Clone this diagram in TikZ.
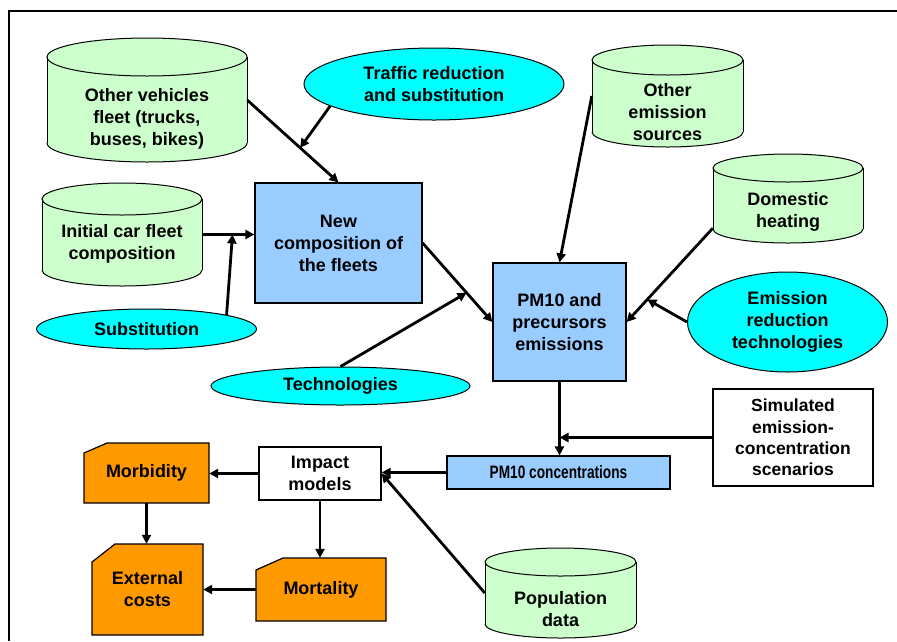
\documentclass[tikz,border=0pt]{standalone}
\usepackage{fontspec}
\setmainfont{Liberation Sans}
\usetikzlibrary{shapes.geometric,arrows.meta,calc}
\definecolor{cylg}{HTML}{CCFFCC}
\definecolor{cyanf}{HTML}{00FFFF}
\definecolor{bluef}{HTML}{99CCFF}
\definecolor{orf}{HTML}{FF9900}
% #1 name, #2 x1, #3 x2, #4 ytop, #5 ybot, #6 ry, #7 text y, #8 text
\newcommand\mycyl[8]{%
  \pgfmathsetmacro\mycx{(#2+#3)/2}%
  \pgfmathsetmacro\myrx{(#3-#2)/2}%
  \pgfmathsetmacro\myyt{#4+#6}%
  \pgfmathsetmacro\myyb{#5-#6}%
  \fill[cylg] (#2,\myyt) rectangle (#3,\myyb);
  \fill[cylg] (\mycx,\myyb) ellipse [x radius=\myrx, y radius=#6];
  \fill[cylg] (\mycx,\myyt) ellipse [x radius=\myrx, y radius=#6];
  \draw[line width=1pt] (\mycx,\myyt) ellipse [x radius=\myrx, y radius=#6];
  \draw[line width=1pt] (#2,\myyt) -- (#2,\myyb) (#3,\myyt) -- (#3,\myyb);
  \begin{scope}
    \clip ({#2-2},\myyb) rectangle ({#3+2},{#5+2});
    \draw[line width=1pt] (\mycx,\myyb) ellipse [x radius=\myrx, y radius=#6];
  \end{scope}
  \node[inner sep=0pt, minimum width={(#3-#2)*1pt}, minimum height={(#5-#4)*1pt}] (#1) at (\mycx,{(#4+#5)/2}) {};
  \node[lbl] (#1t) at (\mycx,#7) {#8};
}
\begin{document}
\begin{tikzpicture}[x=1pt,y=-1pt,
  lbl/.style={font=\bfseries\fontsize{18}{22}\selectfont, align=center, inner sep=0pt},
  boxn/.style={lbl, draw, line width=1.2pt, rectangle},
  ell/.style={lbl, draw, line width=1pt, ellipse, fill=cyanf},
  snip/.style={fill=orf, draw, line width=1.2pt, line join=miter},
  arr/.style={line width=2.8pt, -{Triangle[length=9pt,width=9pt]}}]
\useasboundingbox (0,0) rectangle (897,641);
\fill[white] (0,0) rectangle (897,641);
\draw[line width=2pt] (9,641) -- (9,11) -- (897,11);

% cylinders
\mycyl{ovf}{47}{247}{38}{162}{19}{119}{Other vehicles\\fleet (trucks,\\buses, bikes)}
\mycyl{oes}{592}{743}{45}{147}{15}{112}{Other\\emission\\sources}
\mycyl{dh}{713}{863}{154}{243}{14}{212}{Domestic\\heating}
\mycyl{icf}{42}{202}{183}{286}{16}{244}{Initial car fleet\\composition}
\mycyl{pop}{485}{636}{548}{638}{14}{609}{Population\\data}

% ellipses
\node[ell, minimum width=260pt, minimum height=72pt] (trs) at (434,84) {Traffic reduction\\and substitution};
\node[ell, minimum width=220pt, minimum height=40pt] (sub) at (146.5,329) {Substitution};
\node[ell, minimum width=259pt, minimum height=38pt] (tech) at (340.5,386) {Technologies};
\node[ell, minimum width=200pt, minimum height=100pt] (ert) at (787.5,322) {Emission\\reduction\\technologies};

% rectangles
\node[boxn, fill=bluef, minimum width=167pt, minimum height=120pt] (ncf) at (338.5,243) {New\\composition of\\the fleets};
\node[boxn, fill=bluef, minimum width=133pt, minimum height=118pt] (pme) at (559.5,322) {PM10 and\\precursors\\emissions};
\node[boxn, fill=white, minimum width=160pt, minimum height=97pt, font=\bfseries\fontsize{17.5}{21.3}\selectfont] (sim) at (793,437.5) {Simulated\\emission-\\concentration\\scenarios};
\node[boxn, fill=bluef, minimum width=223pt, minimum height=33pt] (pmc) at (558.5,472.5) {\scalebox{0.76}[1]{PM10 concentrations}};
\node[boxn, fill=white, minimum width=122pt, minimum height=53pt] (imp) at (320,473.5) {Impact\\models};

% snipped orange shapes
\draw[snip] (84,453) -- (107,443) -- (209,443) -- (209,503) -- (84,503) -- cycle;
\node[lbl, minimum width=125pt, minimum height=60pt] (morb) at (146.5,473) {Morbidity};
\draw[snip] (92,562) -- (115,544) -- (203,544) -- (203,635) -- (92,635) -- cycle;
\node[lbl, minimum width=111pt, minimum height=91pt] (ext) at (147.5,589.5) {External\\costs};
\draw[snip] (256,570) -- (283,558) -- (386,558) -- (386,621) -- (256,621) -- cycle;
\node[lbl, minimum width=130pt, minimum height=63pt] (mort) at (321,589.5) {Mortality};

% connectors
\coordinate (m1) at ($(ovf.east)!0.58!(ncf.north)$);
\coordinate (m2) at ($(icf.east)!0.58!(icf.east -| ncf.west)$);
\coordinate (m3) at ($(ncf.east)!0.63!(pme.west)$);
\coordinate (dhs) at ([yshift=15pt]dh.south west);
\coordinate (m4) at ($(dhs)!0.76!(pme.east)$);

\draw[arr] (ovf.east) -- (ncf.north);
\draw[arr] (trs.192) -- (m1);
\draw[arr] (icf.east) -- (icf.east -| ncf.west);
\draw[arr] (sub.10) -- (m2);
\draw[arr] (ncf.east) -- (pme.west);
\draw[arr] (tech.north) -- (m3);
\draw[arr] (oes.west) -- (pme.north);
\draw[arr] (dhs) -- (pme.east);
\draw[arr] (ert.west) -- (m4);
\draw[arr] (pme.south) -- (pme.south |- pmc.north);
\draw[arr] (sim.west) -- (sim.west -| pme.south);
\draw[arr] (pmc.west) -- (pmc.west -| imp.east);
\draw[arr] (pop.west) -- (imp.east);
\draw[arr] (imp.west) -- (imp.west -| morb.east);
\draw[arr] (imp.south) -- (imp.south |- mort.north);
\draw[arr] (morb.south) -- (morb.south |- ext.north);
\draw[arr] (mort.west) -- (mort.west -| ext.east);
\end{tikzpicture}
\end{document}
